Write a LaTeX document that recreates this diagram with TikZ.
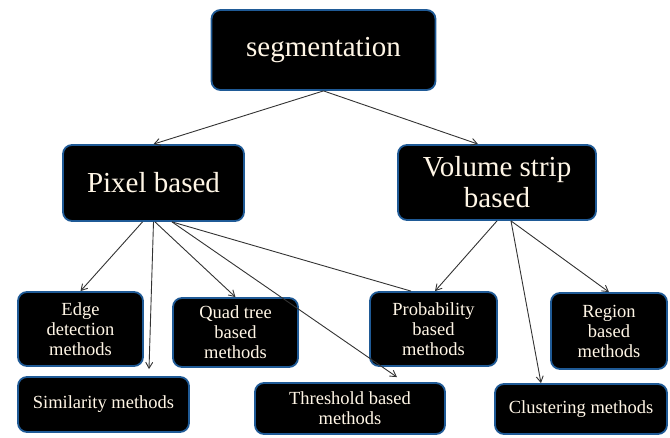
\documentclass[tikz,border=0pt]{standalone}
\usepackage{fontspec}
\setmainfont{Liberation Serif}
\usetikzlibrary{arrows.meta,calc}
\definecolor{boxblue}{HTML}{1F5A96}
\definecolor{txt}{HTML}{FFF6E6}
\definecolor{lnc}{HTML}{333333}
\tikzset{
  box/.style={draw=boxblue, line width=1.8pt, fill=black, rounded corners=9pt,
    text=txt, align=center, inner sep=0pt},
  bigbox/.style={box, font=\fontsize{29}{31}\selectfont},
  smallbox/.style={box, font=\fontsize{18.5}{20}\selectfont},
  conn/.style={draw=lnc, line width=0.9pt},
  arr/.style={conn, -{Straight Barb[length=6pt,width=7pt]}}
}
\begin{document}
\begin{tikzpicture}[x=1pt,y=-1pt]
\useasboundingbox (0,0) rectangle (670,437);
\node[bigbox, minimum width=224pt, minimum height=80pt] (seg) at (323.5,50) {segmentation};
\node[bigbox, minimum width=181pt, minimum height=76pt] (pix) at (153.5,183) {Pixel based};
\node[bigbox, minimum width=198pt, minimum height=75pt] (vol) at (497,182.5) {Volume strip\\based};
\node[smallbox, minimum width=125pt, minimum height=74pt] (edge) at (80.5,329) {Edge\\detection\\methods};
\node[smallbox, minimum width=125pt, minimum height=69pt] (quad) at (235.5,332.5) {Quad tree\\based\\methods};
\node[smallbox, minimum width=171pt, minimum height=55pt] (sim) at (103.5,404.5) {Similarity methods};
\node[smallbox, minimum width=190pt, minimum height=51pt] (thr) at (350,408.5) {Threshold based\\methods};
\node[smallbox, minimum width=127pt, minimum height=74pt] (prob) at (433.5,329) {Probability\\based\\methods};
\node[smallbox, minimum width=116pt, minimum height=76pt] (reg) at (609,331) {Region\\based\\methods};
\node[smallbox, minimum width=172pt, minimum height=50pt] (clu) at (581,409) {Clustering methods};
\coordinate (simend) at ($(sim.north)+(45.5,-7)$);
\coordinate (thrend) at ($(thr.north)+(47,-5)$);
% connectors
\draw[arr] (seg.south) -- (pix.north);
\draw[arr] (seg.south) -- ($(vol.north)+(-19,0)$);
\draw[arr] ($(pix.south)+(-11,0)$) -- (edge.north);
\draw[arr] (pix.south) -- (simend);
\draw[arr] ($(pix.south)+(1.5,0)$) -- (quad.north);
\draw[arr] ($(pix.south)+(18.5,0)$) -- (thrend);
\draw[conn] ($(pix.south)+(18.5,0)$) -- ($(prob.north)+(-22.5,0)$);
\draw[arr] (vol.south) -- ($(prob.north)+(1.5,0)$);
\draw[arr] ($(vol.south)+(14,0)$) -- ($(clu.north)+(-40,0)$);
\draw[arr] ($(vol.south)+(14,0)$) -- (reg.north);
\end{tikzpicture}
\end{document}
